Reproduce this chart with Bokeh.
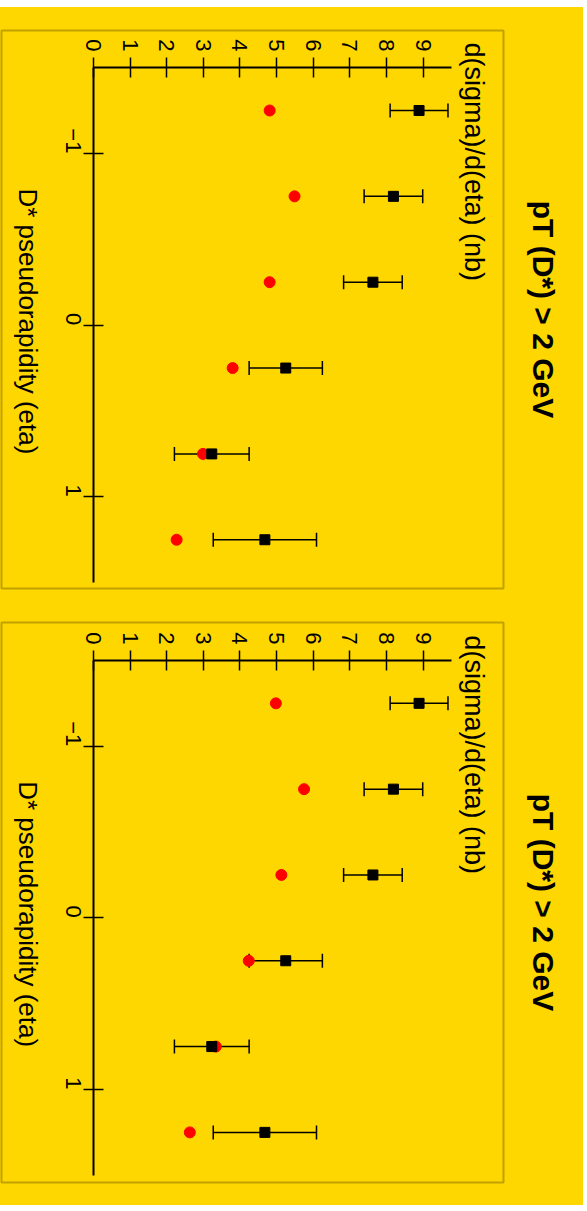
import math
from bokeh.plotting import figure
from bokeh.models import (Range1d, FixedTicker, ColumnDataSource, Whisker, TeeHead,
                          Label, Title, LinearAxis, Spacer)
from bokeh.layouts import column
from bokeh.embed import file_html
from bokeh.resources import INLINE

# ---- data ----
eta = [-1.25, -0.75, -0.25, 0.25, 0.75, 1.25]
data_val = [8.89, 8.19, 7.63, 5.25, 3.23, 4.68]
data_err = [0.79, 0.80, 0.80, 1.00, 1.02, 1.41]
theory_1 = [4.81, 5.49, 4.81, 3.80, 2.99, 2.27]
theory_2 = [4.98, 5.75, 5.13, 4.24, 3.34, 2.63]
title_text = "pT (D*) > 2 GeV"
val_label = "d(sigma)/d(eta) (nb)"
eta_label = "D* pseudorapidity (eta)"
val_ticks = [0, 1, 2, 3, 4, 5, 6, 7, 8, 9]
eta_ticks = [-1, 0, 1]

YEL = "#FFD700"
FONT = "Liberation Sans"


def panel(theory, height, border_top, border_bottom, y_lo, y_hi):
    p = figure(width=583, height=height, output_backend="svg", toolbar_location=None,
               x_axis_location=None, y_axis_location=None,
               x_range=Range1d(-2.512, 11.196), y_range=Range1d(y_hi, y_lo),
               min_border_left=1, min_border_right=80, min_border_top=border_top,
               min_border_bottom=border_bottom)
    p.background_fill_color = YEL
    p.border_fill_color = YEL
    p.outline_line_color = "#BFA200"
    p.outline_line_width = 2
    p.xgrid.visible = False
    p.ygrid.visible = False

    xa = LinearAxis(fixed_location=-1.5, bounds=(0, 9.776),
                    ticker=FixedTicker(ticks=val_ticks))
    ya = LinearAxis(fixed_location=0, bounds=(-1.5, 1.5),
                    ticker=FixedTicker(ticks=eta_ticks))
    for ax in (xa, ya):
        ax.major_label_orientation = -math.pi / 2
        ax.major_tick_in = 10
        ax.major_tick_out = 10
        ax.minor_tick_line_color = None
        ax.axis_line_width = 2
        ax.axis_line_color = "black"
        ax.major_tick_line_width = 1.5
        ax.major_tick_line_color = "black"
        ax.major_label_text_font = FONT
        ax.major_label_text_font_size = "22px"
        ax.major_label_text_color = "black"
    xa.major_label_standoff = 6
    ya.major_label_standoff = 10
    p.add_layout(xa, "above")
    p.add_layout(ya, "left")

    src = ColumnDataSource(dict(
        eta=eta, val=data_val, theory=theory,
        lo=[v - e for v, e in zip(data_val, data_err)],
        hi=[v + e for v, e in zip(data_val, data_err)]))

    p.scatter("theory", "eta", source=src, marker="circle", size=11,
              fill_color="#FF0000", line_color="#FF0000")
    w = Whisker(base="eta", lower="lo", upper="hi", dimension="width", source=src,
                line_color="black", line_width=1.5,
                lower_head=TeeHead(size=14, line_color="black", line_width=1.5),
                upper_head=TeeHead(size=14, line_color="black", line_width=1.5))
    p.add_layout(w)
    p.scatter("val", "eta", source=src, marker="square", size=10,
              fill_color="black", line_color="black")

    p.add_layout(Label(x=10.40, y=-1.646, text=val_label, angle=-math.pi / 2,
                       text_align="left", text_baseline="middle",
                       text_font=FONT, text_font_size="27px", text_color="black"))
    p.add_layout(Label(x=-1.80, y=-0.796, text=eta_label, angle=-math.pi / 2,
                       text_align="left", text_baseline="middle",
                       text_font=FONT, text_font_size="26px", text_color="black"))
    p.add_layout(Title(text=title_text, align="center", vertical_align="middle",
                       text_font=FONT, text_font_size="30px", text_font_style="bold",
                       text_color="black", standoff=44), "right")
    return p


p1 = panel(theory_1, 593, 23, 12, -1.716, 1.534)
p2 = panel(theory_2, 605, 22, 23, -1.721, 1.542)
top_gap = Spacer(width=583, height=7, styles={"background-color": "white"})
layout = column(top_gap, p1, p2, spacing=0)
layout.styles = {"background-color": YEL}

open("out.html", "w").write(file_html(layout, INLINE))
